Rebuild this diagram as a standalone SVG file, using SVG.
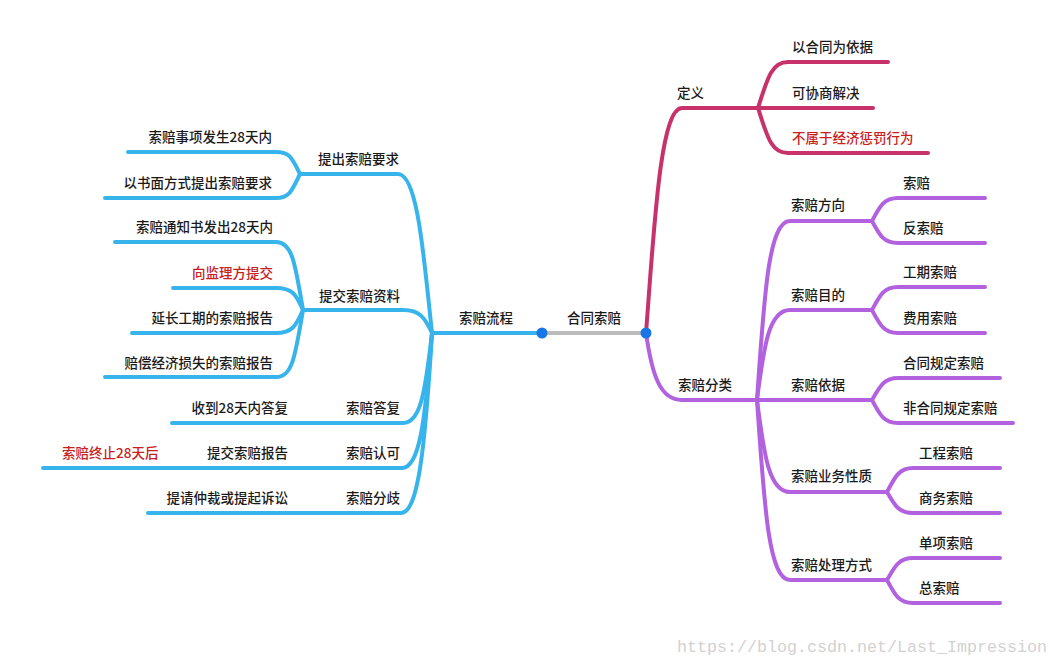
<svg xmlns="http://www.w3.org/2000/svg" width="1058" height="666" viewBox="0 0 1058 666">
<style>
.t{font-family:"Noto Sans CJK SC","Noto Sans",sans-serif;font-size:13.5px;font-weight:500;fill:#1a1a1a}
.r{fill:#c8201e}
.e{text-anchor:end}
.l{fill:none;stroke-width:4;stroke-linecap:round;stroke-linejoin:round}
.b{stroke:#37b4ec}
.c{stroke:#c8326b}
.p{stroke:#b262df}
.g{stroke:#bbbbbb}
.wm{font-family:"Liberation Mono",monospace;font-size:16.7px;fill:#d2d2d2}
</style>
<rect width="1058" height="666" fill="#ffffff"/>
<g id="connectors">
  <path class="l g" d="M542,333 H646"/>
  <!-- left -->
  <path class="l b" d="M542,333 H432"/>
  <path class="l b" d="M432,333 C424,260 418,174 398,174 H300"/>
  <path class="l b" d="M300,174 C292,158 290,152 276,152 H128"/>
  <path class="l b" d="M300,174 C292,190 290,198 276,198 H105"/>
  <path class="l b" d="M432,333 C425,318 420,310 403,310 H303"/>
  <path class="l b" d="M303,310 C295,262 292,242 276,242 H115"/>
  <path class="l b" d="M303,310 C296,294 292,288 276,288 H173"/>
  <path class="l b" d="M303,310 C296,326 292,333 276,333 H132"/>
  <path class="l b" d="M303,310 C295,358 292,377 276,377 H105"/>
  <path class="l b" d="M432,333 C425,395 420,423 403,423 H172"/>
  <path class="l b" d="M432,333 C425,425 419,468 402,468 H43"/>
  <path class="l b" d="M432,333 C425,450 418,513 401,513 H148"/>
  <!-- right: definition -->
  <path class="l c" d="M646,333 C654,230 660,108 682,108 H758"/>
  <path class="l c" d="M758,108 C767,80 771,62 788,62 H888"/>
  <path class="l c" d="M758,108 H873"/>
  <path class="l c" d="M758,108 C767,136 771,153 788,153 H928"/>
  <!-- right: classification -->
  <path class="l p" d="M646,333 C652,375 660,400 682,400 H757"/>
  <path class="l p" d="M757,400 C764,300 768,221 790,221 H872"/>
  <path class="l p" d="M757,400 C764,345 769,310 790,310 H872"/>
  <path class="l p" d="M757,400 H872"/>
  <path class="l p" d="M757,400 C764,455 769,492 790,492 H887"/>
  <path class="l p" d="M757,400 C764,500 768,580 790,580 H887"/>
  <path class="l p" d="M872,221 C880,206 884,198 898,198 H985"/>
  <path class="l p" d="M872,221 C880,236 884,243 898,243 H985"/>
  <path class="l p" d="M872,310 C880,295 884,287 898,287 H985"/>
  <path class="l p" d="M872,310 C880,325 884,333 898,333 H985"/>
  <path class="l p" d="M872,400 C880,386 884,378 898,378 H1000"/>
  <path class="l p" d="M872,400 C880,415 884,423 898,423 H1013"/>
  <path class="l p" d="M887,492 C895,477 899,468 913,468 H1000"/>
  <path class="l p" d="M887,492 C895,506 899,513 913,513 H1000"/>
  <path class="l p" d="M887,580 C895,566 899,558 913,558 H1000"/>
  <path class="l p" d="M887,580 C895,595 899,603 913,603 H1000"/>
</g>
<g id="node-root">
  <text class="t" x="567" y="323">合同索赔</text>
  <circle cx="542" cy="333" r="5.5" fill="#1877e6"/>
  <circle cx="646" cy="333" r="5.5" fill="#1877e6"/>
</g>
<g id="node-process"><text class="t" x="459" y="323">索赔流程</text></g>
<g id="node-request">
  <text class="t" x="318" y="164">提出索赔要求</text>
  <text class="t e" x="272" y="142">索赔事项发生28天内</text>
  <text class="t e" x="272" y="188">以书面方式提出索赔要求</text>
</g>
<g id="node-submit">
  <text class="t" x="319" y="301">提交索赔资料</text>
  <text class="t e" x="273" y="232">索赔通知书发出28天内</text>
  <text class="t e r" x="273" y="278">向监理方提交</text>
  <text class="t e" x="273" y="323">延长工期的索赔报告</text>
  <text class="t e" x="273" y="368">赔偿经济损失的索赔报告</text>
</g>
<g id="node-reply">
  <text class="t e" x="400" y="413">索赔答复</text>
  <text class="t e" x="288" y="413">收到28天内答复</text>
</g>
<g id="node-approve">
  <text class="t e" x="400" y="458">索赔认可</text>
  <text class="t e" x="288" y="458">提交索赔报告</text>
  <text class="t r" x="62" y="458">索赔终止28天后</text>
</g>
<g id="node-dispute">
  <text class="t e" x="400" y="503">索赔分歧</text>
  <text class="t e" x="288" y="503">提请仲裁或提起诉讼</text>
</g>
<g id="node-definition">
  <text class="t" x="677" y="98">定义</text>
  <text class="t" x="792" y="52">以合同为依据</text>
  <text class="t" x="792" y="98">可协商解决</text>
  <text class="t r" x="792" y="143">不属于经济惩罚行为</text>
</g>
<g id="node-classification"><text class="t" x="678" y="390">索赔分类</text></g>
<g id="node-direction">
  <text class="t" x="791" y="210">索赔方向</text>
  <text class="t" x="903" y="188">索赔</text>
  <text class="t" x="903" y="233">反索赔</text>
</g>
<g id="node-purpose">
  <text class="t" x="791" y="300">索赔目的</text>
  <text class="t" x="903" y="277">工期索赔</text>
  <text class="t" x="903" y="323">费用索赔</text>
</g>
<g id="node-basis">
  <text class="t" x="791" y="390">索赔依据</text>
  <text class="t" x="903" y="368">合同规定索赔</text>
  <text class="t" x="903" y="413">非合同规定索赔</text>
</g>
<g id="node-nature">
  <text class="t" x="791" y="481">索赔业务性质</text>
  <text class="t" x="919" y="458">工程索赔</text>
  <text class="t" x="919" y="503">商务索赔</text>
</g>
<g id="node-handling">
  <text class="t" x="791" y="570">索赔处理方式</text>
  <text class="t" x="919" y="548">单项索赔</text>
  <text class="t" x="919" y="593">总索赔</text>
</g>
<text class="wm" x="677" y="652" textLength="370">https://blog.csdn.net/Last_Impression</text>
</svg>
